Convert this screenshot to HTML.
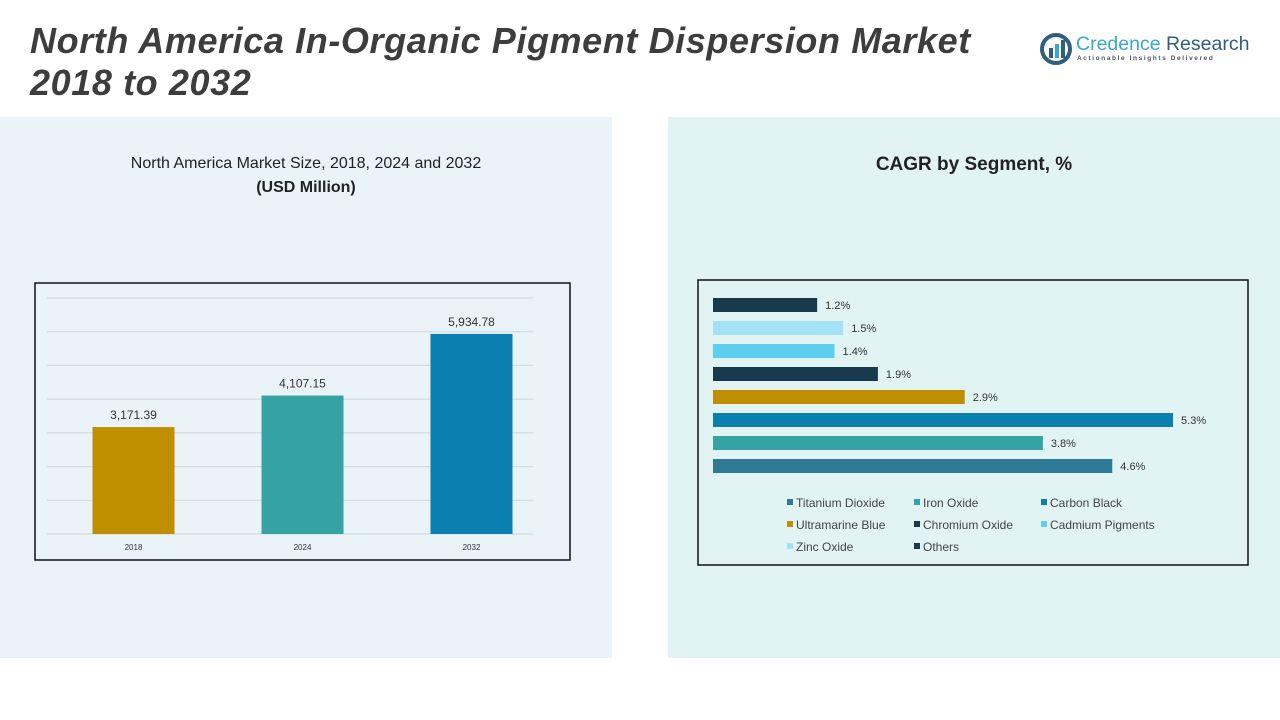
<!DOCTYPE html>
<html><head><meta charset="utf-8"><style>
body{margin:0;width:1280px;height:720px;background:#fff;position:relative;overflow:hidden;font-family:"Liberation Sans",sans-serif;}
.abs{position:absolute}
</style></head><body>
<div class="abs" style="left:0;top:117px;width:612px;height:541px;background:#eaf3f8"></div>
<div class="abs" style="left:668px;top:117px;width:612px;height:541px;background:#e2f3f4"></div>
<div class="abs" style="left:30px;top:20px;font-size:36px;font-weight:bold;font-style:italic;color:#3d3d3d;line-height:42px;letter-spacing:0.6px">North America In-Organic Pigment Dispersion Market<br>2018 to 2032</div>
<div class="abs" style="left:1040px;top:32px;width:210px;height:36px">
<svg width="32" height="32" style="position:absolute;left:0;top:1px"><circle cx="16" cy="16" r="14" fill="none" stroke="#2f5f80" stroke-width="4"/><rect x="9" y="15" width="4" height="10" fill="#2f5f80"/><rect x="15" y="11" width="4" height="14" fill="#3aa8c8"/><rect x="21" y="7" width="4" height="18" fill="#2f5f80"/></svg>
<div style="position:absolute;left:36px;top:1px;font-size:19.5px;color:#3aa8c8;white-space:nowrap">Credence <span style="color:#2f5f80">Research</span></div>
<div style="position:absolute;left:37px;top:23px;font-size:6.5px;letter-spacing:1.6px;color:#555;white-space:nowrap;font-weight:bold">Actionable Insights Delivered</div>
</div>
<div class="abs" style="left:0;top:152px;width:612px;text-align:center;font-size:16px;color:#222;line-height:24px">North America Market Size, 2018, 2024 and 2032<br><b>(USD Million)</b></div>
<div class="abs" style="left:668px;top:154px;width:612px;text-align:center;font-size:19px;font-weight:bold;color:#222">CAGR by Segment, %</div>
<svg class="abs" style="left:0;top:0" width="1280" height="720" id="svg"></svg>
<script>
const years=["2018","2024","2032"];
const sizes=[3171.39,4107.15,5934.78];
const sizeLabels=["3,171.39","4,107.15","5,934.78"];
const barColors=["#bf8f00","#35a3a3","#0a7fb0"];
const segments=["Others","Zinc Oxide","Cadmium Pigments","Chromium Oxide","Ultramarine Blue","Carbon Black","Iron Oxide","Titanium Dioxide"];
const cagr=[1.2,1.5,1.4,1.9,2.9,5.3,3.8,4.6];
const segColors=["#173b4c","#a3e2f6","#5ccff0","#173b4c","#bf8f00","#0a7fb0","#35a3a3","#2e7a96"];
const gridTicks=[0,1000,2000,3000,4000,5000,6000,7000];
const NS="http://www.w3.org/2000/svg",svg=document.getElementById('svg');
function mk(t,a,txt){const e=document.createElementNS(NS,t);for(const k in a)e.setAttribute(k,a[k]);if(txt!=null)e.textContent=txt;svg.appendChild(e);return e;}
let e=mk('rect',{x:35,y:283,width:535,height:277,fill:'none',stroke:'#111','stroke-width':1.5});

const y0=534,yMax=7000,pH=236;const ys=v=>y0-v/yMax*pH;
const px0=49,band=169;const xs=i=>px0+band*(i+0.5);
gridTicks.forEach(t=>{const g=mk('line',{x1:47,x2:533,y1:ys(t),y2:ys(t),stroke:'#cfd6da','stroke-width':1});
});
sizes.forEach((v,i)=>{const b=mk('rect',{x:xs(i)-41,y:ys(v),width:82,height:y0-ys(v),fill:barColors[i]});

const l=mk('text',{x:xs(i),y:ys(v)-8,'text-anchor':'middle','font-size':12,fill:'#333'},sizeLabels[i]);

const x=mk('text',{x:xs(i),y:550,'text-anchor':'middle','font-size':8,fill:'#333'},years[i]);
});
e=mk('rect',{x:698,y:280,width:550,height:285,fill:'none',stroke:'#111','stroke-width':1.5});

const bx0=713,perPct=86.8;const bw=v=>v*perPct;const by=i=>305+i*23;
cagr.forEach((v,i)=>{const b=mk('rect',{x:bx0,y:by(i)-7,width:bw(v),height:14,fill:segColors[i]});

const l=mk('text',{x:bx0+bw(v)+8,y:by(i)+4,'font-size':11,fill:'#333'},v.toFixed(1)+'%');
});
const legOrder=[7,6,5,4,3,2,1,0];
legOrder.forEach((si,k)=>{const c=k%3,r=Math.floor(k/3);const lx=787+c*127,ly=503+r*22;
const s=mk('rect',{x:lx,y:ly-4,width:6,height:6,fill:segColors[si]});

const t=mk('text',{x:lx+9,y:ly+4,'font-size':12,fill:'#444'},segments[si]);
});
</script>
</body></html>
